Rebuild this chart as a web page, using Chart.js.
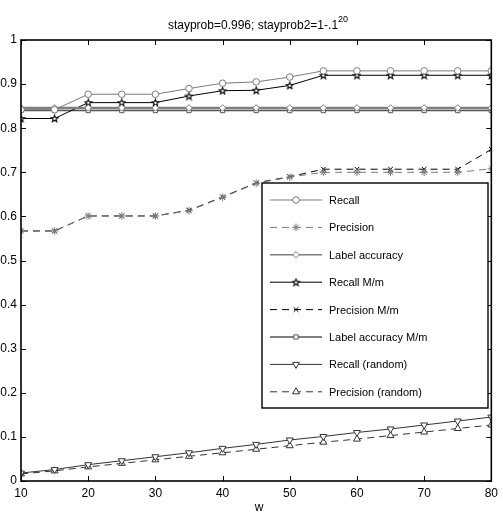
<!DOCTYPE html>
<html>
<head>
<meta charset="utf-8">
<script src="https://cdn.jsdelivr.net/npm/chart.js@4/dist/chart.umd.min.js"></script>
<style>
  html, body { margin: 0; padding: 0; background: #fff; }
  canvas { display: block; }
</style>
</head>
<body>
<canvas id="chart" width="503" height="516"></canvas>
<script>
// x values (w)
const wValues = [10, 15, 20, 25, 30, 35, 40, 45, 50, 55, 60, 65, 70, 75, 80];

// series
const recall         = [0.842, 0.842, 0.877, 0.877, 0.877, 0.890, 0.902, 0.905, 0.916, 0.930, 0.930, 0.930, 0.930, 0.930, 0.930];
const precision      = [0.567, 0.567, 0.601, 0.601, 0.601, 0.613, 0.643, 0.675, 0.689, 0.700, 0.700, 0.700, 0.700, 0.700, 0.708];
const labelAcc       = [0.846, 0.846, 0.846, 0.846, 0.846, 0.846, 0.846, 0.846, 0.846, 0.846, 0.846, 0.846, 0.846, 0.846, 0.846];
const recallMm       = [0.822, 0.822, 0.858, 0.858, 0.858, 0.873, 0.885, 0.886, 0.897, 0.920, 0.920, 0.920, 0.920, 0.920, 0.920];
const precisionMm    = [0.567, 0.567, 0.601, 0.601, 0.601, 0.614, 0.644, 0.676, 0.690, 0.707, 0.707, 0.707, 0.707, 0.707, 0.752];
const labelAccMm     = [0.840, 0.840, 0.840, 0.840, 0.840, 0.840, 0.840, 0.840, 0.840, 0.840, 0.840, 0.840, 0.840, 0.840, 0.840];
const recallRandom   = [0.018, 0.026, 0.037, 0.046, 0.055, 0.064, 0.074, 0.083, 0.093, 0.101, 0.110, 0.118, 0.127, 0.136, 0.145];
const precisionRandom= [0.016, 0.023, 0.032, 0.040, 0.048, 0.056, 0.064, 0.072, 0.080, 0.088, 0.095, 0.103, 0.111, 0.119, 0.127];

const seriesNames = ['Recall', 'Precision', 'Label accuracy', 'Recall M/m', 'Precision M/m',
                     'Label accuracy M/m', 'Recall (random)', 'Precision (random)'];

const yTicks = [0, 0.1, 0.2, 0.3, 0.4, 0.5, 0.6, 0.7, 0.8, 0.9, 1];
const xTicks = [10, 20, 30, 40, 50, 60, 70, 80];

// pentagram marker (matlab 'p')
function makePentagram(color) {
  const c = document.createElement('canvas');
  c.width = 9; c.height = 9;
  const g = c.getContext('2d');
  g.beginPath();
  for (let i = 0; i < 10; i++) {
    const r = i % 2 === 0 ? 3.6 : 1.5;
    const a = -Math.PI / 2 + i * Math.PI / 5;
    const px = 4.5 + r * Math.cos(a), py = 4.8 + r * Math.sin(a);
    if (i === 0) g.moveTo(px, py); else g.lineTo(px, py);
  }
  g.closePath();
  g.fillStyle = '#fff';
  g.fill();
  g.strokeStyle = color;
  g.lineWidth = 1.1;
  g.stroke();
  return c;
}
const pentagram = makePentagram('#000');

function toPoints(arr) {
  return arr.map((v, i) => ({ x: wValues[i], y: v }));
}

function ds(label, data, color, lineW, dash, style, radius, rotation) {
  return {
    label: label,
    data: toPoints(data),
    borderColor: color,
    backgroundColor: color,
    borderWidth: lineW,
    borderDash: dash,
    pointStyle: style,
    pointRadius: radius,
    pointRotation: rotation || 0,
    pointBorderColor: color,
    pointBackgroundColor: '#fff',
    pointBorderWidth: 1,
    tension: 0,
    fill: false
  };
}

const datasets = [
  ds(seriesNames[0], recall, '#7a7a7a', 1, [], 'circle', 3.3),
  ds(seriesNames[1], precision, '#7a7a7a', 1, [7, 5], 'star', 3.8),
  ds(seriesNames[2], labelAcc, '#7f7f7f', 2.5, [], 'rectRot', 3.3),
  ds(seriesNames[3], recallMm, '#000', 1, [], pentagram, 4),
  ds(seriesNames[4], precisionMm, '#000', 1, [7, 5], 'crossRot', 3.3),
  ds(seriesNames[5], labelAccMm, '#555', 1.5, [], 'rect', 3),
  ds(seriesNames[6], recallRandom, '#333', 1, [], 'triangle', 4, 180),
  ds(seriesNames[7], precisionRandom, '#333', 1, [7, 5], 'triangle', 4)
];

function drawMarker(ctx, d, x, y) {
  ctx.save();
  if (d.pointStyle instanceof HTMLCanvasElement) {
    ctx.drawImage(d.pointStyle, x - d.pointStyle.width / 2, y - d.pointStyle.height / 2);
  } else {
    ctx.strokeStyle = d.pointBorderColor;
    ctx.fillStyle = '#fff';
    ctx.lineWidth = d.pointBorderWidth;
    ctx.setLineDash([]);
    Chart.helpers.drawPoint(ctx, {
      pointStyle: d.pointStyle, radius: d.pointRadius,
      rotation: d.pointRotation, borderWidth: d.pointBorderWidth
    }, x, y);
  }
  ctx.restore();
}

// box, inward ticks, title, x label, legend
const decorations = {
  id: 'decorations',
  afterDatasetsDraw(chart) {
    const ctx = chart.ctx;
    const a = chart.chartArea;
    const xs = chart.scales.x, ys = chart.scales.y;
    ctx.save();
    ctx.strokeStyle = '#000';
    ctx.setLineDash([]);
    ctx.lineWidth = 1;
    yTicks.forEach(t => {
      const py = Math.round(ys.getPixelForValue(t)) + 0.5;
      ctx.beginPath();
      ctx.moveTo(a.left, py); ctx.lineTo(a.left + 5, py);
      ctx.moveTo(a.right, py); ctx.lineTo(a.right - 5, py);
      ctx.stroke();
    });
    xTicks.forEach(t => {
      const px = Math.round(xs.getPixelForValue(t)) + 0.5;
      ctx.beginPath();
      ctx.moveTo(px, a.bottom); ctx.lineTo(px, a.bottom - 5);
      ctx.moveTo(px, a.top); ctx.lineTo(px, a.top + 5);
      ctx.stroke();
    });
    ctx.lineWidth = 1.6;
    ctx.strokeRect(a.left, a.top, a.right - a.left, a.bottom - a.top);

    // title with superscript
    ctx.fillStyle = '#000';
    ctx.textBaseline = 'alphabetic';
    ctx.textAlign = 'left';
    const main = 'stayprob=0.996; stayprob2=1-.1';
    const sup = '20';
    ctx.font = '12px "Liberation Sans", Arial, sans-serif';
    const wMain = ctx.measureText(main).width;
    ctx.font = '9px "Liberation Sans", Arial, sans-serif';
    const wSup = ctx.measureText(sup).width;
    const tx = 258 - (wMain + wSup) / 2;
    ctx.font = '12px "Liberation Sans", Arial, sans-serif';
    ctx.fillText(main, tx, 29);
    ctx.font = '9px "Liberation Sans", Arial, sans-serif';
    ctx.fillText(sup, tx + wMain, 22);

    // x axis title
    ctx.font = '12px "Liberation Sans", Arial, sans-serif';
    ctx.textAlign = 'center';
    ctx.fillText('w', 259, 511);

    // legend box
    const lx = 262, ly = 183, lw = 226, lh = 225;
    ctx.fillStyle = '#fff';
    ctx.fillRect(lx, ly, lw, lh);
    ctx.lineWidth = 1.4;
    ctx.strokeStyle = '#000';
    ctx.strokeRect(lx, ly, lw, lh);
    chart.data.datasets.forEach((d, i) => {
      const y = 200 + i * 27.4;
      ctx.save();
      ctx.strokeStyle = d.borderColor;
      ctx.lineWidth = Math.min(d.borderWidth, 1.5);
      ctx.setLineDash(d.borderDash);
      ctx.beginPath();
      ctx.moveTo(270, y); ctx.lineTo(322, y);
      ctx.stroke();
      ctx.restore();
      drawMarker(ctx, d, 296, y);
      ctx.fillStyle = '#000';
      ctx.textAlign = 'left';
      ctx.textBaseline = 'middle';
      ctx.font = '11px "Liberation Sans", Arial, sans-serif';
      ctx.fillText(d.label, 329, y + 1);
    });
    ctx.restore();
  }
};

Chart.defaults.font.family = '"Liberation Sans", Arial, sans-serif';
Chart.defaults.font.size = 12;
Chart.defaults.color = '#000';

new Chart(document.getElementById('chart'), {
  type: 'line',
  data: { datasets: datasets },
  options: {
    responsive: false,
    animation: false,
    devicePixelRatio: 1,
    layout: { padding: { top: 40, right: 6, left: 0, bottom: 0 } },
    plugins: { legend: { display: false }, tooltip: { enabled: false }, title: { display: false } },
    scales: {
      x: {
        type: 'linear',
        min: 10, max: 80,
        afterFit: s => { s.height = 35; },
        afterBuildTicks: s => { s.ticks = xTicks.map(v => ({ value: v })); },
        grid: { display: false, drawTicks: false },
        border: { display: false },
        ticks: { padding: 5, maxRotation: 0, font: { size: 12 } }
      },
      y: {
        type: 'linear',
        min: 0, max: 1,
        afterFit: s => { s.width = 21; },
        afterBuildTicks: s => { s.ticks = yTicks.map(v => ({ value: v })); },
        grid: { display: false, drawTicks: false },
        border: { display: false },
        ticks: {
          padding: 4,
          font: { size: 12 },
          callback: v => String(Math.round(v * 10) / 10)
        }
      }
    }
  },
  plugins: [decorations]
});
</script>
</body>
</html>
